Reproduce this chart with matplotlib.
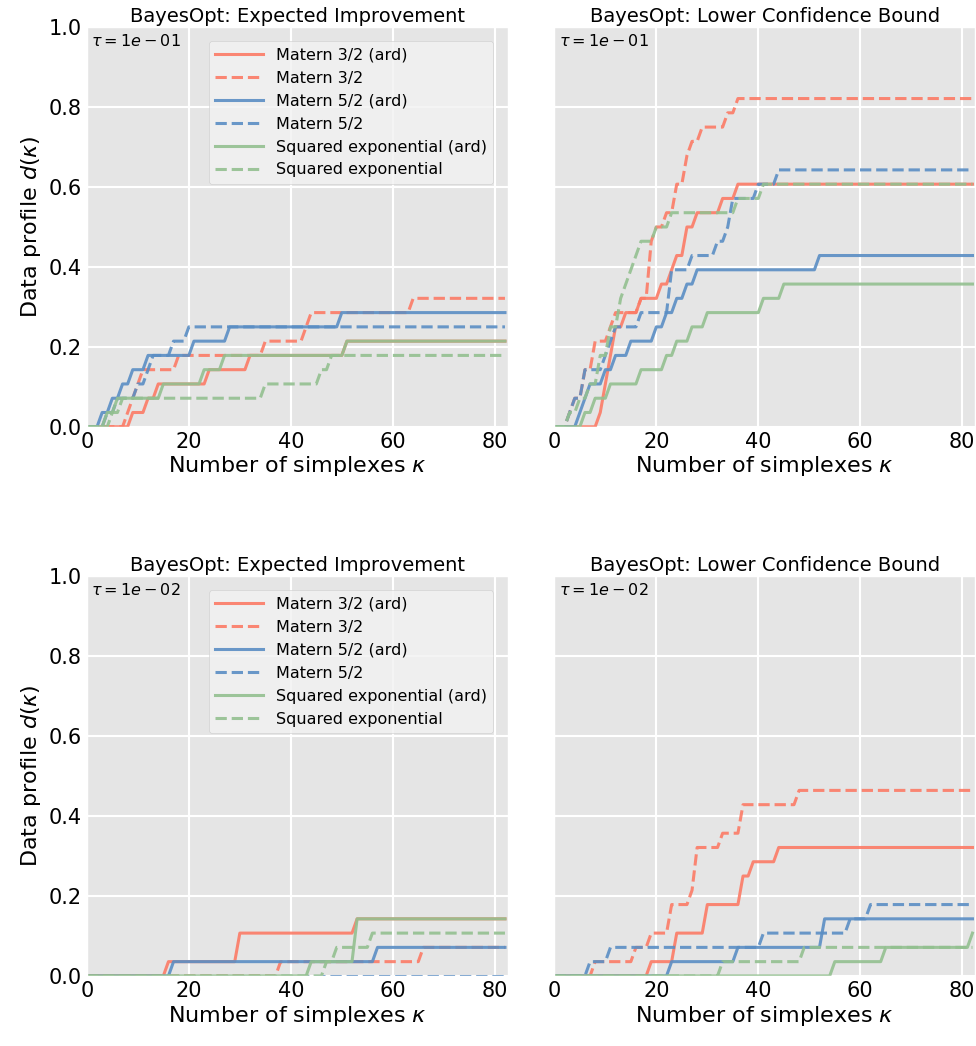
import numpy as np
import matplotlib
matplotlib.use("Agg")
import matplotlib.pyplot as plt

plt.style.use("ggplot")

N_PROBLEMS = 28
X_END = 82

labels = ["Matern 3/2 (ard)", "Matern 3/2", "Matern 5/2 (ard)", "Matern 5/2",
          "Squared exponential (ard)", "Squared exponential"]
colors = ["#fc7b66", "#fc7b66", "#5a8ec4", "#5a8ec4", "#93c090", "#93c090"]
styles = ["-", "--", "-", "--", "-", "--"]

# breakpoints: (simplex count, number of problems solved)
ei_1 = [
    [(9, 1), (12, 2), (14, 3), (24, 4), (32, 5), (51, 6)],
    [(8, 1), (9, 2), (10, 3), (11, 4), (18, 5), (35, 6), (43, 7), (44, 8), (64, 9)],
    [(3, 1), (5, 2), (7, 3), (9, 4), (12, 5), (21, 6), (28, 7), (50, 8)],
    [(4, 1), (6, 2), (10, 3), (12, 4), (13, 5), (17, 6), (20, 7)],
    [(4, 1), (6, 2), (15, 3), (23, 4), (27, 5), (51, 6)],
    [(5, 1), (7, 2), (35, 3), (46, 4), (48, 5)],
]
lcb_1 = [
    [(9, 1), (10, 3), (11, 5), (12, 7), (14, 8), (17, 9), (21, 10), (23, 11), (24, 12),
     (26, 14), (28, 15), (33, 16), (36, 17)],
    [(3, 1), (4, 2), (6, 4), (8, 6), (11, 7), (12, 8), (17, 9), (19, 13), (20, 14),
     (22, 15), (24, 17), (26, 19), (27, 20), (29, 21), (34, 22), (36, 23)],
    [(5, 1), (6, 2), (7, 3), (10, 4), (12, 5), (15, 6), (20, 7), (22, 8), (24, 9),
     (26, 10), (28, 11), (52, 12)],
    [(3, 1), (4, 2), (6, 4), (10, 5), (11, 6), (12, 7), (17, 8), (23, 11), (27, 12),
     (32, 13), (34, 14), (35, 16), (40, 17), (44, 18)],
    [(6, 1), (8, 2), (11, 3), (17, 4), (22, 5), (24, 6), (27, 7), (30, 8), (41, 9), (45, 10)],
    [(3, 1), (5, 2), (7, 3), (9, 5), (11, 7), (13, 9), (14, 10), (15, 11), (16, 12),
     (17, 13), (20, 14), (23, 15), (36, 16), (41, 17)],
]
ei_2 = [
    [(16, 1), (30, 3), (53, 4)],
    [(38, 1), (66, 2)],
    [(17, 1), (57, 2)],
    [],
    [(44, 1), (53, 4)],
    [(47, 1), (49, 2), (56, 3)],
]
lcb_2 = [
    [(19, 1), (24, 3), (30, 5), (37, 7), (39, 8), (44, 9)],
    [(8, 1), (16, 2), (19, 3), (23, 5), (27, 6), (28, 9), (33, 10), (37, 12), (48, 13)],
    [(23, 1), (36, 2), (53, 4)],
    [(7, 1), (11, 2), (41, 3), (58, 4), (62, 5)],
    [(55, 1), (65, 2), (82, 3)],
    [(33, 1), (49, 2)],
]

panels = [
    ("BayesOpt: Expected Improvement", r"$\tau = 1e-01$", ei_1, True),
    ("BayesOpt: Lower Confidence Bound", r"$\tau = 1e-01$", lcb_1, False),
    ("BayesOpt: Expected Improvement", r"$\tau = 1e-02$", ei_2, True),
    ("BayesOpt: Lower Confidence Bound", r"$\tau = 1e-02$", lcb_2, False),
]


def profile_points(breaks):
    xs, ys = [0], [0]
    prev = 0
    for x, k in breaks:
        xs += [x - 1, x]
        ys += [prev, k]
        prev = k
    xs.append(X_END)
    ys.append(prev)
    return np.array(xs), np.array(ys) / N_PROBLEMS


fig = plt.figure(figsize=(9.76, 10.46), dpi=100)
positions = [(0.089, 0.592), (0.568, 0.592), (0.089, 0.067), (0.568, 0.067)]

for (title, tau, series, left), (px, py) in zip(panels, positions):
    ax = fig.add_axes([px, py, 0.431, 0.382])
    for breaks, lab, c, ls in zip(series, labels, colors, styles):
        xs, ys = profile_points(breaks)
        ax.plot(xs, ys, ls, color=c, lw=2.2, alpha=0.9, label=lab)
    ax.set_xlim(0, 82.5)
    ax.set_ylim(0, 1.0)
    ax.set_xticks([0, 20, 40, 60, 80])
    ax.set_yticks([0, 0.2, 0.4, 0.6, 0.8, 1.0])
    ax.tick_params(labelsize=15, colors="black", length=0)
    ax.grid(color="white", lw=1.5)
    ax.set_title(title, fontsize=14, color="black", pad=4)
    ax.set_xlabel(r"Number of simplexes $\kappa$", fontsize=16, color="black", labelpad=2)
    ax.text(0.01, 0.985, tau, transform=ax.transAxes, ha="left", va="top", fontsize=11.5)
    if left:
        ax.set_ylabel(r"Data profile $d(\kappa)$", fontsize=16, color="black")
        ax.legend(loc="upper right", bbox_to_anchor=(0.985, 0.985), fontsize=11.5,
                  facecolor="#f2f2f2", framealpha=0.8, handlelength=3)
    else:
        ax.set_yticklabels([])

fig.savefig("out.png", dpi=100)
